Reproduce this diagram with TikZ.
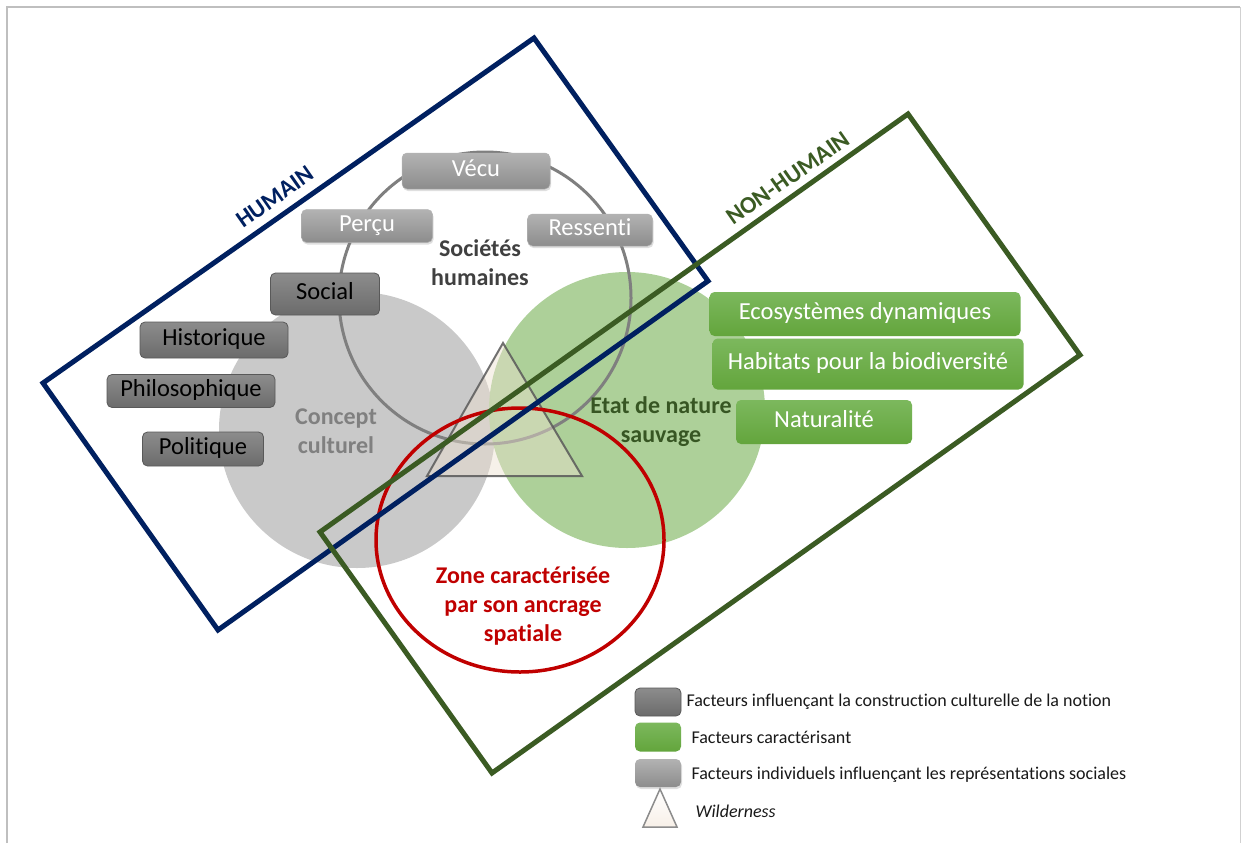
\documentclass[tikz,border=0pt]{standalone}
\usepackage{fontspec}
\setmainfont[Ligatures=NoCommon]{Carlito}
\usetikzlibrary{shadows}
\definecolor{navy}{HTML}{002060}
\definecolor{frgreen}{HTML}{3B5B23}
\definecolor{lbl}{HTML}{375623}
\definecolor{zred}{HTML}{C00000}
\definecolor{ringgray}{HTML}{7F7F7F}
\definecolor{HTML7CB85D}{HTML}{7CB85D}
\definecolor{HTML63A53C}{HTML}{63A53C}
\tikzset{
  boxtext/.style={font=\fontsize{24.5}{29}\selectfont, text height=16pt, text depth=6pt, inner sep=0pt},
  indiv/.style={boxtext, rounded corners=5pt, top color=black!30, bottom color=black!45, draw=black!30, line width=0.5pt,
    text=white, drop shadow={opacity=0.25, shadow xshift=1pt, shadow yshift=-2pt}},
  cult/.style={boxtext, rounded corners=5pt, top color=black!45, bottom color=black!58, draw=black!65, line width=0.8pt,
    text=black},
  caract/.style={boxtext, rounded corners=5pt, top color=HTML7CB85D, bottom color=HTML63A53C, draw=none,
    text=white},
  biglbl/.style={font=\bfseries\fontsize{24}{29}\selectfont, align=center},
  legtxt/.style={anchor=west, font=\fontsize{18}{22}\selectfont, text=black!90},
  frame/.style={line width=5pt, line join=miter}
}
\begin{document}
\begin{tikzpicture}[x=1pt,y=-1pt]
\useasboundingbox (0,0) rectangle (1241,843);
\fill[white] (0,0) rectangle (1241,843);
% outer border
\draw[black!25, line width=2pt] (7,843) -- (7,7) -- (1240,7);
\draw[black!18, line width=1pt] (1240,7) -- (1240,843);

% circles
\fill[black!21] (357,430) circle[radius=138pt];
\fill[HTML63A53C!55, opacity=0.95] (627,410) circle[radius=138pt];
\draw[ringgray, line width=3pt] (485,298) circle[radius=146pt];

% wilderness triangle
\coordinate (ta) at (503,343);
\coordinate (tb) at (427,476);
\coordinate (tc) at (582,476);
\filldraw[fill=HTML7CB85D!15!brown!25, fill opacity=0.45, draw=black!65, draw opacity=0.85, line width=2pt, line join=miter] (ta) -- (tb) -- (tc) -- cycle;

% red zone
\draw[zred, line width=3.5pt] (520,540) ellipse [x radius=144pt, y radius=132pt];

% labels
\node[biglbl, text=black!75] (soc) at (480,263) {Sociétés\\humaines};
\node[biglbl, text=black!50] (cc) at (336,431) {Concept\\culturel};
\node[biglbl, text=lbl] (ens) at (661,422) {Etat de nature\\sauvage};
\node[biglbl, text=zred] (zone) at (523,606) {Zone caractérisée\\par son ancrage\\spatiale};

% individual factors
\node[indiv, minimum width=148pt, minimum height=36pt] (vecu) at (476,171) {Vécu};
\node[indiv, minimum width=131pt, minimum height=33pt] (percu) at (367,226) {Perçu};
\node[indiv, minimum width=125pt, minimum height=32pt] (ress) at (590,230) {Ressenti};

% cultural factors
\node[cult, minimum width=109pt, minimum height=42pt] (social) at (325,294) {Social};
\node[cult, minimum width=148pt, minimum height=36pt] (hist) at (214,340) {Historique};
\node[cult, minimum width=168pt, minimum height=33pt] (philo) at (191,391) {Philosophique};
\node[cult, minimum width=121pt, minimum height=34pt] (poli) at (203,449) {Politique};

% characterising factors
\node[caract, minimum width=311pt, minimum height=44pt] (eco) at (865,314) {Ecosystèmes dynamiques};
\node[caract, minimum width=311pt, minimum height=51pt] (hab) at (868,364) {Habitats pour la biodiversité};
\node[caract, minimum width=176pt, minimum height=44pt] (nat) at (824,422) {Naturalité};

% frames
\coordinate (h1) at (43,383);
\coordinate (h2) at (534,38);
\coordinate (h3) at (708,281);
\coordinate (h4) at (218,630);
\draw[frame, navy] (h1) -- (h2) -- (h3) -- (h4) -- cycle;
\coordinate (n1) at (320,532);
\coordinate (n2) at (908,114);
\coordinate (n3) at (1080,355);
\coordinate (n4) at (492,773);
\draw[frame, frgreen] (n1) -- (n2) -- (n3) -- (n4) -- cycle;

\node[font=\bfseries\fontsize{24}{29}\selectfont, text=navy, rotate=35, inner sep=0pt] (hum) at (275,197) {HUMAIN};
\node[font=\bfseries\fontsize{24}{29}\selectfont, text=frgreen, rotate=35, inner sep=0pt] (nonhum) at (788,178) {NON-HUMAIN};

% legend
\node[cult, minimum width=46pt, minimum height=28pt] (lg1) at (658,702) {};
\node[caract, minimum width=46pt, minimum height=29pt] (lg2) at (658,737) {};
\node[indiv, minimum width=46pt, minimum height=28pt, draw=none] (lg3) at (658,773) {};
\coordinate (la) at (660,789);
\coordinate (lb) at (643,827);
\coordinate (lc) at (677,827);
\filldraw[top color=white, bottom color=brown!12, draw=black!45, line width=1.5pt, line join=miter] (la) -- (lb) -- (lc) -- cycle;
\node[legtxt] (lt1) at (683,702) {Facteurs influençant la construction culturelle de la notion};
\node[legtxt] (lt2) at (688,737) {Facteurs caractérisant};
\node[legtxt] (lt3) at (688,775) {Facteurs individuels influençant les représentations sociales};
\node[legtxt, font=\itshape\fontsize{18}{22}\selectfont] (lt4) at (692,811) {Wilderness};
\end{tikzpicture}
\end{document}
